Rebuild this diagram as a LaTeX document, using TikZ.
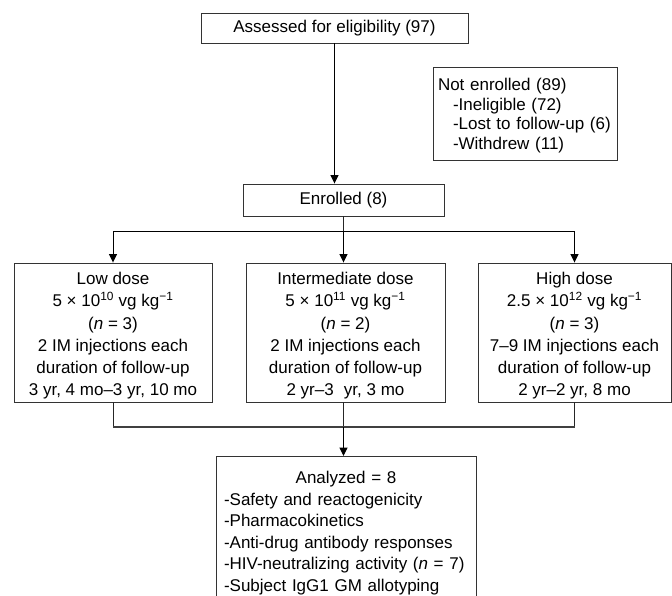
\documentclass[tikz,border=0pt]{standalone}
\usepackage{fontspec}
\setmainfont{Liberation Sans}
\usetikzlibrary{arrows.meta}
\begin{document}
\begin{tikzpicture}[x=1pt,y=-1pt,
  every node/.style={font=\fontsize{17}{22.2}\selectfont},
  box/.style={draw=black!80, line width=0.9pt, inner sep=0pt, align=center},
  wire/.style={line width=1pt, black!85},
  bus/.style={line width=1.7pt, black!75},
  arr/.style={line width=1pt, black, -{Triangle[length=8.5pt,width=8pt]}}]
\useasboundingbox (0,0) rectangle (672,596);

\node (assess) [box, minimum width=267, minimum height=30] at (334.5,28) {Assessed for eligibility (97)};

\node (notenr) [box, minimum width=184, minimum height=93, text width=174, align=left,
  font=\fontsize{17}{19.5}\selectfont] at (525,113.5)
  {\rule{0pt}{17pt}Not enrolled (89)\\
   \hspace*{15pt}-Ineligible (72)\\
   \hspace*{15pt}-Lost to follow-up (6)\\
   \hspace*{15pt}-Withdrew (11)};

\node (enr) [box, minimum width=201, minimum height=32] at (343.5,200) {Enrolled (8)};

\node (low) [box, minimum width=198, minimum height=139] at (113,332.5)
  {\rule{0pt}{19pt}Low dose\\
   5 × 10\textsuperscript{10} vg kg\textsuperscript{−1}\\
   (\textit{n} = 3)\\
   2 IM injections each\\
   duration of follow-up\\
   3 yr, 4 mo–3 yr, 10 mo};

\node (mid) [box, minimum width=199, minimum height=139] at (345.5,332.5)
  {\rule{0pt}{19pt}Intermediate dose\\
   5 × 10\textsuperscript{11} vg kg\textsuperscript{−1}\\
   (\textit{n} = 2)\\
   2 IM injections each\\
   duration of follow-up\\
   2 yr–3\hspace{0.6em}yr, 3 mo};

\node (high) [box, minimum width=193, minimum height=139] at (574.5,332.5)
  {\rule{0pt}{19pt}High dose\\
   2.5 × 10\textsuperscript{12} vg kg\textsuperscript{−1}\\
   (\textit{n} = 3)\\
   7–9 IM injections each\\
   duration of follow-up\\
   2 yr–2 yr, 8 mo};

\node (anal) [box, anchor=north, minimum width=260, text width=244, inner xsep=8pt,
  inner ysep=15pt, align=left, font=\fontsize{17}{21.5}\selectfont] at (346,456)
  {\makebox[244pt][c]{Analyzed = 8}\\
   -Safety and reactogenicity\\
   -Pharmacokinetics\\
   -Anti-drug antibody responses\\
   -HIV-neutralizing activity (\textit{n} = 7)\\
   -Subject IgG1 GM allotyping\\
   \strut};

\coordinate (j1) at (343.5,232);
\coordinate (j2) at (343.5,427);

\draw[arr] (assess.south) -- (assess.south |- enr.north);
\draw[wire] (enr.south) -- (j1);
\draw[arr] (j1) -| (low.north);
\draw[arr] (j1) -| (high.north);
\draw[arr] (j1) -- (j1 |- mid.north);

\draw[wire] (low.south) -- (low.south |- j2);
\draw[wire] (high.south) -- (high.south |- j2);
\draw[wire] (mid.south -| j2) -- (j2);
\draw[bus] (low.south |- j2) -- (high.south |- j2);
\draw[arr] (j2) -- (j2 |- anal.north);
\end{tikzpicture}
\end{document}
